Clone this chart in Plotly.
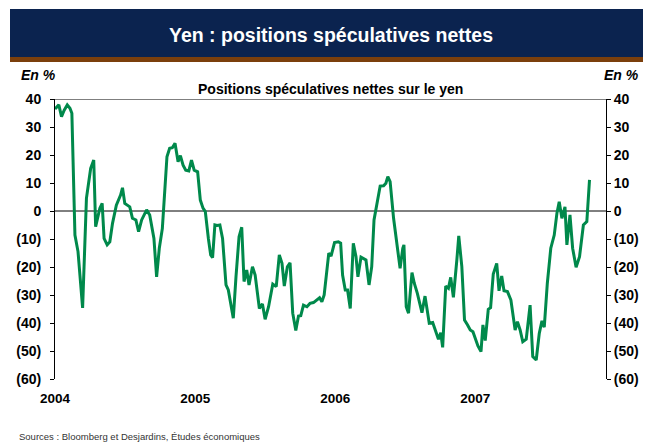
import plotly.graph_objects as go

dates = [
    "2004-01-01", "2004-01-11", "2004-01-18", "2004-01-25", "2004-02-02", "2004-02-09", "2004-02-14",
    "2004-02-22", "2004-03-01", "2004-03-13", "2004-03-23", "2004-04-03", "2004-04-11", "2004-04-16",
    "2004-04-27", "2004-05-03", "2004-05-08", "2004-05-16", "2004-05-23", "2004-05-30", "2004-06-09",
    "2004-06-20", "2004-06-25", "2004-07-01", "2004-07-14", "2004-07-21", "2004-07-30", "2004-08-06",
    "2004-08-14", "2004-08-27", "2004-09-04", "2004-09-15", "2004-09-22", "2004-09-29", "2004-10-07",
    "2004-10-13", "2004-10-19", "2004-10-26", "2004-11-02", "2004-11-09", "2004-11-17", "2004-11-23",
    "2004-11-30", "2004-12-07", "2004-12-15", "2004-12-22", "2004-12-29",
    "2005-01-07", "2005-01-14", "2005-01-21", "2005-01-27", "2005-02-04", "2005-02-10", "2005-02-15",
    "2005-02-21", "2005-02-27", "2005-03-06", "2005-03-13", "2005-03-22", "2005-03-28", "2005-04-03",
    "2005-04-10", "2005-04-17", "2005-04-25", "2005-05-02", "2005-05-08", "2005-05-15", "2005-05-21",
    "2005-05-30", "2005-06-06", "2005-06-17", "2005-06-25", "2005-07-02", "2005-07-11", "2005-07-22",
    "2005-07-31", "2005-08-08", "2005-08-15", "2005-08-21", "2005-08-29", "2005-09-05", "2005-09-12",
    "2005-09-20", "2005-09-27", "2005-10-03", "2005-10-10", "2005-10-19", "2005-10-27", "2005-11-05",
    "2005-11-14", "2005-11-21", "2005-11-27", "2005-12-03", "2005-12-15", "2005-12-21", "2005-12-30",
    "2006-01-09", "2006-01-15", "2006-01-20", "2006-01-27", "2006-02-02", "2006-02-09", "2006-02-17",
    "2006-02-24", "2006-03-01", "2006-03-09", "2006-03-15", "2006-03-22", "2006-03-30", "2006-04-06",
    "2006-04-12", "2006-04-19", "2006-04-28", "2006-05-07", "2006-05-13", "2006-05-18", "2006-05-24",
    "2006-06-02", "2006-06-12", "2006-06-19", "2006-06-26", "2006-06-29", "2006-07-05", "2006-07-11",
    "2006-07-20", "2006-07-26", "2006-08-03", "2006-08-15", "2006-08-23", "2006-09-03", "2006-09-12",
    "2006-09-21", "2006-09-27", "2006-10-03", "2006-10-08", "2006-10-16", "2006-10-23", "2006-10-29",
    "2006-11-05", "2006-11-14", "2006-11-19", "2006-11-27", "2006-12-04", "2006-12-12", "2006-12-19",
    "2006-12-26",
    "2007-01-01", "2007-01-08", "2007-01-16", "2007-01-21", "2007-01-27", "2007-02-04", "2007-02-10",
    "2007-02-17", "2007-02-26", "2007-03-04", "2007-03-11", "2007-03-17", "2007-03-26", "2007-04-04",
    "2007-04-15", "2007-04-21", "2007-04-28", "2007-05-05", "2007-05-14", "2007-05-24", "2007-05-31",
    "2007-06-09", "2007-06-17", "2007-06-24", "2007-06-30", "2007-07-08", "2007-07-17", "2007-07-26",
    "2007-08-02", "2007-08-08", "2007-08-15", "2007-08-23", "2007-08-28", "2007-09-05", "2007-09-12",
    "2007-09-21", "2007-09-30", "2007-10-10", "2007-10-19", "2007-10-26",
]

positions = [
    36.4, 37.9, 33.7, 36.0, 37.9, 36.7, 34.9,
    -8.6, -14.5, -34.6, 4.5, 15.2, 18.2, -5.6,
    1.0, 2.7, -9.8, -12.1, -11.0, -4.4, 2.1,
    5.7, 8.3, 2.7, 1.5, -2.6, -3.2, -7.4,
    -3.2, 0.4, -1.4, -9.8, -23.5, -13.3, -6.2,
    8.1, 19.4, 22.4, 22.6, 24.2, 17.6, 19.8,
    16.4, 14.6, 14.3, 18.2, 14.6,
    14.0, 3.9, 1.0, -0.2, -9.8, -15.7, -16.7,
    -5.0, -5.2, -5.0, -9.8, -26.4, -28.2, -32.4,
    -38.3, -23.5, -9.2, -5.8, -25.2, -21.1, -26.4,
    -19.9, -22.9, -34.8, -33.2, -38.7, -34.2, -26.1,
    -27.0, -15.7, -18.7, -26.8, -19.9, -18.5, -36.5,
    -42.7, -37.5, -37.4, -33.6, -34.2, -33.0, -32.7,
    -31.8, -31.0, -32.4, -30.0, -15.1, -16.1, -11.3,
    -11.0, -11.5, -22.9, -28.2, -28.2, -34.8, -11.5,
    -16.3, -23.5, -16.5, -16.9, -17.5, -26.4, -19.9,
    -3.2, 2.1, 8.9, 9.0, 9.9, 12.3, 10.5,
    -2.6, -13.9, -20.5, -13.3, -12.1, -34.2, -36.5,
    -22.0, -25.8, -29.4, -36.3, -30.4, -40.1, -39.8,
    -43.1, -45.8, -43.5, -48.7, -26.8, -27.6, -23.7,
    -30.8, -17.5, -8.9, -19.9, -38.9, -40.7, -42.5,
    -43.1,
    -45.5, -48.2, -50.2, -40.7, -46.3, -35.1, -34.5,
    -22.5, -18.7, -28.5, -23.2, -28.5, -28.8, -31.8,
    -42.5, -39.5, -42.5, -46.7, -45.8, -33.6, -52.0,
    -53.2, -43.7, -39.2, -41.5, -25.8, -13.3, -8.6,
    -0.8, 3.3, -2.6, 1.5, -12.1, -1.4, -13.3,
    -20.1, -16.3, -5.0, -3.8, 11.1,
]

y_ticks = [40, 30, 20, 10, 0, -10, -20, -30, -40, -50, -60]
y_tick_labels = ["40", "30", "20", "10", "0", "(10)", "(20)", "(30)", "(40)", "(50)", "(60)"]
x_ticks = ["2004-01-01", "2005-01-01", "2006-01-01", "2007-01-01"]
x_tick_labels = ["2004", "2005", "2006", "2007"]

title_text = "Yen : positions spéculatives nettes"
subtitle_text = "Positions spéculatives nettes sur le yen"
unit_text = "En %"
source_text = "Sources : Bloomberg et Desjardins, Études économiques"

FONT = "Arial, 'Liberation Sans', sans-serif"
GREEN = "#00894B"

# plot area in page pixels: left 55, right 606, top 99, bottom 379 (page has 8px body margin)
def px(x):
    return (x - 55) / 551

def py(y):
    return (379 - y) / 280

fig = go.Figure()
fig.add_trace(go.Scatter(
    x=dates, y=positions, mode="lines",
    line=dict(color=GREEN, width=3), showlegend=False, hoverinfo="x+y",
))
fig.add_trace(go.Scatter(
    x=dates, y=positions, mode="lines", yaxis="y2",
    line=dict(color="rgba(0,0,0,0)", width=0), showlegend=False, hoverinfo="skip",
))

tickfont = dict(family=FONT, size=14, color="black", weight="bold")
xtickfont = dict(family=FONT, size=13.5, color="black", weight="bold")

fig.update_layout(
    width=643, height=434,
    margin=dict(l=47, r=45, t=91, b=63, autoexpand=False),
    paper_bgcolor="white", plot_bgcolor="white",
    xaxis=dict(
        type="date", range=["2004-01-01", "2007-12-08"],
        tickvals=x_ticks, ticktext=x_tick_labels,
        ticks="outside", ticklen=7, tickcolor="rgba(0,0,0,0)",
        showgrid=False, zeroline=False, showline=False,
        tickfont=xtickfont, automargin=False,
    ),
    yaxis=dict(
        range=[-60, 40], tickvals=y_ticks, ticktext=y_tick_labels,
        ticks="outside", ticklen=4, tickcolor="black", tickwidth=1,
        ticklabelstandoff=6,
        showline=True, linecolor="black", linewidth=1,
        showgrid=False, zeroline=False, tickfont=tickfont, automargin=False,
    ),
    yaxis2=dict(
        range=[-60, 40], tickvals=y_ticks, ticktext=y_tick_labels,
        overlaying="y", side="right",
        ticks="outside", ticklen=4, tickcolor="black", tickwidth=1,
        showline=True, linecolor="black", linewidth=1,
        showgrid=False, zeroline=False, tickfont=tickfont, automargin=False,
    ),
    shapes=[
        dict(type="line", xref="paper", yref="y", x0=0, x1=1, y0=40, y1=40,
             line=dict(color="black", width=1), layer="below"),
        dict(type="line", xref="paper", yref="y", x0=0, x1=1, y0=0, y1=0,
             line=dict(color="black", width=1), layer="below"),
        dict(type="rect", xref="paper", yref="paper", x0=px(10), x1=px(660),
             y0=py(57), y1=py(9), fillcolor="#0B234F", line=dict(width=0)),
        dict(type="rect", xref="paper", yref="paper", x0=px(10), x1=px(660),
             y0=py(62), y1=py(57), fillcolor="#7B3F0C", line=dict(width=0)),
    ],
    annotations=[
        dict(text=title_text, xref="paper", yref="paper", x=px(331), y=py(35),
             showarrow=False, xanchor="center", yanchor="middle",
             font=dict(family=FONT, size=19.5, color="white", weight="bold")),
        dict(text=subtitle_text, xref="paper", yref="paper", x=px(330), y=py(89),
             showarrow=False, xanchor="center", yanchor="middle",
             font=dict(family=FONT, size=14, color="black", weight="bold")),
        dict(text="<i>" + unit_text + "</i>", xref="paper", yref="paper", x=px(19),
             y=py(75), showarrow=False, xanchor="left", yanchor="middle",
             font=dict(family=FONT, size=14, color="black", weight="bold")),
        dict(text="<i>" + unit_text + "</i>", xref="paper", yref="paper", x=px(641),
             y=py(75), showarrow=False, xanchor="right", yanchor="middle",
             font=dict(family=FONT, size=14, color="black", weight="bold")),
        dict(text=source_text, xref="paper", yref="paper", x=px(17),
             y=py(436), showarrow=False, xanchor="left", yanchor="middle",
             font=dict(family=FONT, size=9.5, color="#333333")),
    ],
)

fig.write_html("out.html")
